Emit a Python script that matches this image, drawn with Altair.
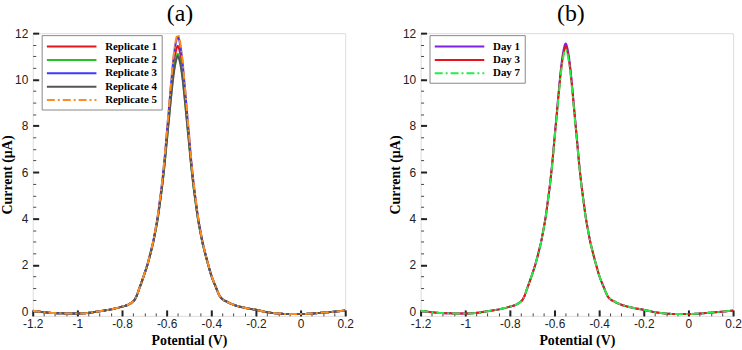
import altair as alt
import pandas as pd

# ---------------- data ----------------
potential = [-1.20, -1.10, -1.00, -0.95, -0.90, -0.85, -0.80, -0.76, -0.74,
             -0.72, -0.70, -0.685, -0.67, -0.66, -0.65, -0.64, -0.63, -0.62, -0.61,
             -0.60, -0.59, -0.58, -0.57, -0.56, -0.55, -0.54, -0.53, -0.52, -0.51,
             -0.50, -0.49, -0.48, -0.47, -0.46, -0.45, -0.44, -0.43, -0.415, -0.40,
             -0.38, -0.36, -0.33, -0.30, -0.25, -0.20, -0.15, -0.10, -0.05, 0.00,
             0.05, 0.10, 0.15, 0.20]

rep1 = [0.02, -0.08, -0.10, -0.07, 0.00, 0.08, 0.20, 0.35, 0.55,
        1.05, 1.60, 2.05, 2.60, 3.00, 3.50, 4.05, 4.75, 5.50, 6.40,
        7.45, 8.50, 9.55, 10.50, 11.15, 11.45, 11.15, 10.50, 9.55, 8.50,
        7.45, 6.40, 5.50, 4.75, 4.05, 3.50, 3.00, 2.60, 2.05, 1.55,
        1.05, 0.62, 0.41, 0.28, 0.15, 0.06, -0.04, -0.10, -0.12, -0.12,
        -0.10, -0.06, -0.02, 0.03]
rep2 = [0.02, -0.08, -0.10, -0.07, 0.00, 0.08, 0.20, 0.35, 0.55,
        1.05, 1.59, 2.04, 2.58, 2.98, 3.47, 4.01, 4.69, 5.42, 6.29,
        7.30, 8.31, 9.31, 10.21, 10.82, 11.10, 10.82, 10.21, 9.31, 8.31,
        7.30, 6.29, 5.42, 4.69, 4.01, 3.47, 2.98, 2.58, 2.04, 1.54,
        1.05, 0.62, 0.41, 0.28, 0.15, 0.06, -0.04, -0.10, -0.12, -0.12,
        -0.10, -0.06, -0.02, 0.03]
rep3 = [0.02, -0.08, -0.10, -0.07, 0.00, 0.08, 0.20, 0.35, 0.55,
        1.05, 1.61, 2.06, 2.62, 3.03, 3.54, 4.10, 4.82, 5.59, 6.52,
        7.62, 8.72, 9.83, 10.84, 11.53, 11.85, 11.53, 10.84, 9.83, 8.72,
        7.62, 6.52, 5.59, 4.82, 4.10, 3.54, 3.03, 2.62, 2.06, 1.56,
        1.05, 0.62, 0.41, 0.28, 0.15, 0.06, -0.04, -0.10, -0.12, -0.12,
        -0.10, -0.06, -0.02, 0.03]
rep4 = [0.02, -0.08, -0.10, -0.07, 0.00, 0.08, 0.20, 0.35, 0.55,
        1.05, 1.59, 2.04, 2.58, 2.97, 3.46, 3.99, 4.67, 5.40, 6.26,
        7.26, 8.25, 9.24, 10.12, 10.72, 11.00, 10.72, 10.12, 9.24, 8.25,
        7.26, 6.26, 5.40, 4.67, 3.99, 3.46, 2.97, 2.58, 2.04, 1.54,
        1.05, 0.62, 0.41, 0.28, 0.15, 0.06, -0.04, -0.10, -0.12, -0.12,
        -0.10, -0.06, -0.02, 0.03]
rep5 = [0.02, -0.08, -0.10, -0.07, 0.00, 0.08, 0.20, 0.35, 0.55,
        1.05, 1.61, 2.06, 2.62, 3.03, 3.55, 4.12, 4.84, 5.61, 6.56,
        7.66, 8.78, 9.90, 10.92, 11.63, 11.95, 11.63, 10.92, 9.90, 8.78,
        7.66, 6.56, 5.61, 4.84, 4.12, 3.55, 3.03, 2.62, 2.06, 1.56,
        1.05, 0.62, 0.41, 0.28, 0.15, 0.06, -0.04, -0.10, -0.12, -0.12,
        -0.10, -0.06, -0.02, 0.03]

day1 = [0.02, -0.08, -0.10, -0.07, 0.00, 0.08, 0.20, 0.35, 0.55,
        1.05, 1.60, 2.05, 2.60, 3.00, 3.50, 4.06, 4.76, 5.51, 6.42,
        7.48, 8.54, 9.60, 10.57, 11.24, 11.55, 11.24, 10.57, 9.60, 8.54,
        7.48, 6.42, 5.51, 4.76, 4.06, 3.50, 3.00, 2.60, 2.05, 1.55,
        1.05, 0.62, 0.41, 0.28, 0.15, 0.06, -0.04, -0.10, -0.12, -0.12,
        -0.10, -0.06, -0.02, 0.03]
day3 = [0.02, -0.08, -0.10, -0.07, 0.00, 0.08, 0.20, 0.35, 0.55,
        1.05, 1.60, 2.05, 2.60, 3.00, 3.50, 4.04, 4.74, 5.49, 6.38,
        7.43, 8.47, 9.52, 10.46, 11.10, 11.42, 11.10, 10.46, 9.52, 8.47,
        7.43, 6.38, 5.49, 4.74, 4.04, 3.50, 3.00, 2.60, 2.05, 1.55,
        1.05, 0.62, 0.41, 0.28, 0.15, 0.06, -0.04, -0.10, -0.12, -0.12,
        -0.10, -0.06, -0.02, 0.03]
day7 = [0.02, -0.08, -0.10, -0.07, 0.00, 0.08, 0.20, 0.35, 0.55,
        1.05, 1.60, 2.05, 2.60, 2.99, 3.49, 4.03, 4.72, 5.47, 6.35,
        7.39, 8.42, 9.45, 10.37, 11.01, 11.30, 11.01, 10.37, 9.45, 8.42,
        7.39, 6.35, 5.47, 4.72, 4.03, 3.49, 2.99, 2.60, 2.05, 1.55,
        1.05, 0.62, 0.41, 0.28, 0.15, 0.06, -0.04, -0.10, -0.12, -0.12,
        -0.10, -0.06, -0.02, 0.03]

rep_names = ["Replicate 1", "Replicate 2", "Replicate 3", "Replicate 4", "Replicate 5"]
rep_series = [rep1, rep2, rep3, rep4, rep5]
rep_colors = ["#e8141c", "#22c322", "#3a3aff", "#555555", "#ff8c1e"]
rep_dashes = [[1, 0], [1, 0], [1, 0], [1, 0], [8, 3, 2, 3]]

day_names = ["Day 1", "Day 3", "Day 7"]
day_series = [day1, day3, day7]
day_colors = ["#7b22e6", "#e8141c", "#22ee44"]
day_dashes = [[1, 0], [1, 0], [8, 3, 2, 3]]

x_major = [-1.2, -1.0, -0.8, -0.6, -0.4, -0.2, 0.0, 0.2]
x_minor = [-1.2, -1.15, -1.1, -1.05, -1.0, -0.95, -0.9, -0.85, -0.8, -0.75, -0.7,
           -0.65, -0.6, -0.55, -0.5, -0.45, -0.4, -0.35, -0.3, -0.25, -0.2, -0.15,
           -0.1, -0.05, 0.0, 0.05, 0.1, 0.15, 0.2]
y_major = [0, 2, 4, 6, 8, 10, 12]
y_minor = [0, 0.5, 1, 1.5, 2, 2.5, 3, 3.5, 4, 4.5, 5, 5.5, 6, 6.5, 7, 7.5, 8, 8.5,
           9, 9.5, 10, 10.5, 11, 11.5, 12]


def make_df(names, series):
    rows = []
    for n, s in zip(names, series):
        for xv, yv in zip(potential, s):
            rows.append({"Potential": xv, "Current": yv, "Series": n})
    return pd.DataFrame(rows)


SERIF = "Liberation Serif"
SANS = "Liberation Sans"

xscale = alt.Scale(domain=[-1.2, 0.2], nice=False, zero=False)
yscale = alt.Scale(domain=[-0.2, 12], nice=False, zero=False)


def panel(names, series, colors, dashes, title, title_dx):
    df = make_df(names, series)
    base = alt.Chart(df)
    legend = alt.Legend(
        title=None, orient="none", legendX=9, legendY=2,
        fillColor="white", strokeColor="#888888", padding=4,
        symbolType="M-1,0L7,0", symbolSize=156, symbolStrokeWidth=2,
        labelFont=SERIF, labelFontWeight="bold", labelFontSize=11,
        labelColor="black", labelOffset=45, rowPadding=0.5,
    )
    main = base.mark_line(strokeWidth=2, interpolate="monotone", clip=True).encode(
        x=alt.X("Potential:Q", scale=xscale, axis=alt.Axis(
            orient="bottom", values=x_major, title="Potential (V)", offset=-6,
            tickSize=6, tickWidth=2, tickColor="#222", domain=False, grid=False,
            labelExpr="toString(datum.value)", labelFlush=False, labelOverlap=False,
            labelPadding=3, labelFont=SANS, labelFontSize=12, labelColor="#222",
            titleFont=SERIF, titleFontWeight="bold", titleFontSize=14,
            titleColor="black", titlePadding=4)),
        y=alt.Y("Current:Q", scale=yscale, axis=alt.Axis(
            orient="left", values=y_major, title="Current (\u00b5A)", offset=-6,
            tickSize=6, tickWidth=2, tickColor="#222", domain=False, grid=False,
            labelFlush=False, labelOverlap=False,
            labelPadding=5, labelFont=SANS, labelFontSize=12, labelColor="#222",
            titleFont=SERIF, titleFontWeight="bold", titleFontSize=14,
            titleColor="black", titlePadding=0)),
        color=alt.Color("Series:N", scale=alt.Scale(domain=names, range=colors),
                        legend=legend),
        strokeDash=alt.StrokeDash("Series:N", scale=alt.Scale(domain=names, range=dashes),
                                  legend=legend),
    )
    minor = base.mark_line(opacity=0).encode(
        x=alt.X("Potential:Q", scale=xscale, axis=alt.Axis(
            orient="bottom", values=x_minor, title=None, offset=-3, tickSize=3,
            tickWidth=1, tickColor="#444", domain=False, grid=False, labels=False)),
        y=alt.Y("Current:Q", scale=yscale, axis=alt.Axis(
            orient="left", values=y_minor, title=None, offset=-3, tickSize=3,
            tickWidth=1, tickColor="#444", domain=False, grid=False, labels=False)),
        detail="Series:N",
    )
    return alt.layer(minor, main).resolve_axis(x="independent", y="independent").properties(
        width=315, height=285,
        title=alt.TitleParams(title, font=SERIF, fontSize=24, fontWeight="normal",
                              color="black", anchor="middle", offset=1, dx=title_dx),
    )


pa = panel(rep_names, rep_series, rep_colors, rep_dashes, "(a)", -9)
pb = panel(day_names, day_series, day_colors, day_dashes, "(b)", -6)

chart = alt.hconcat(pa, pb, spacing=34).resolve_scale(
    color="independent", strokeDash="independent"
).properties(
    padding={"left": 0, "top": 0, "right": 0, "bottom": 0}
).configure_view(
    stroke="#1a1a1a", strokeWidth=2
).configure(background="white")

chart.save("out.html", embed_options={"renderer": "svg", "actions": False})
